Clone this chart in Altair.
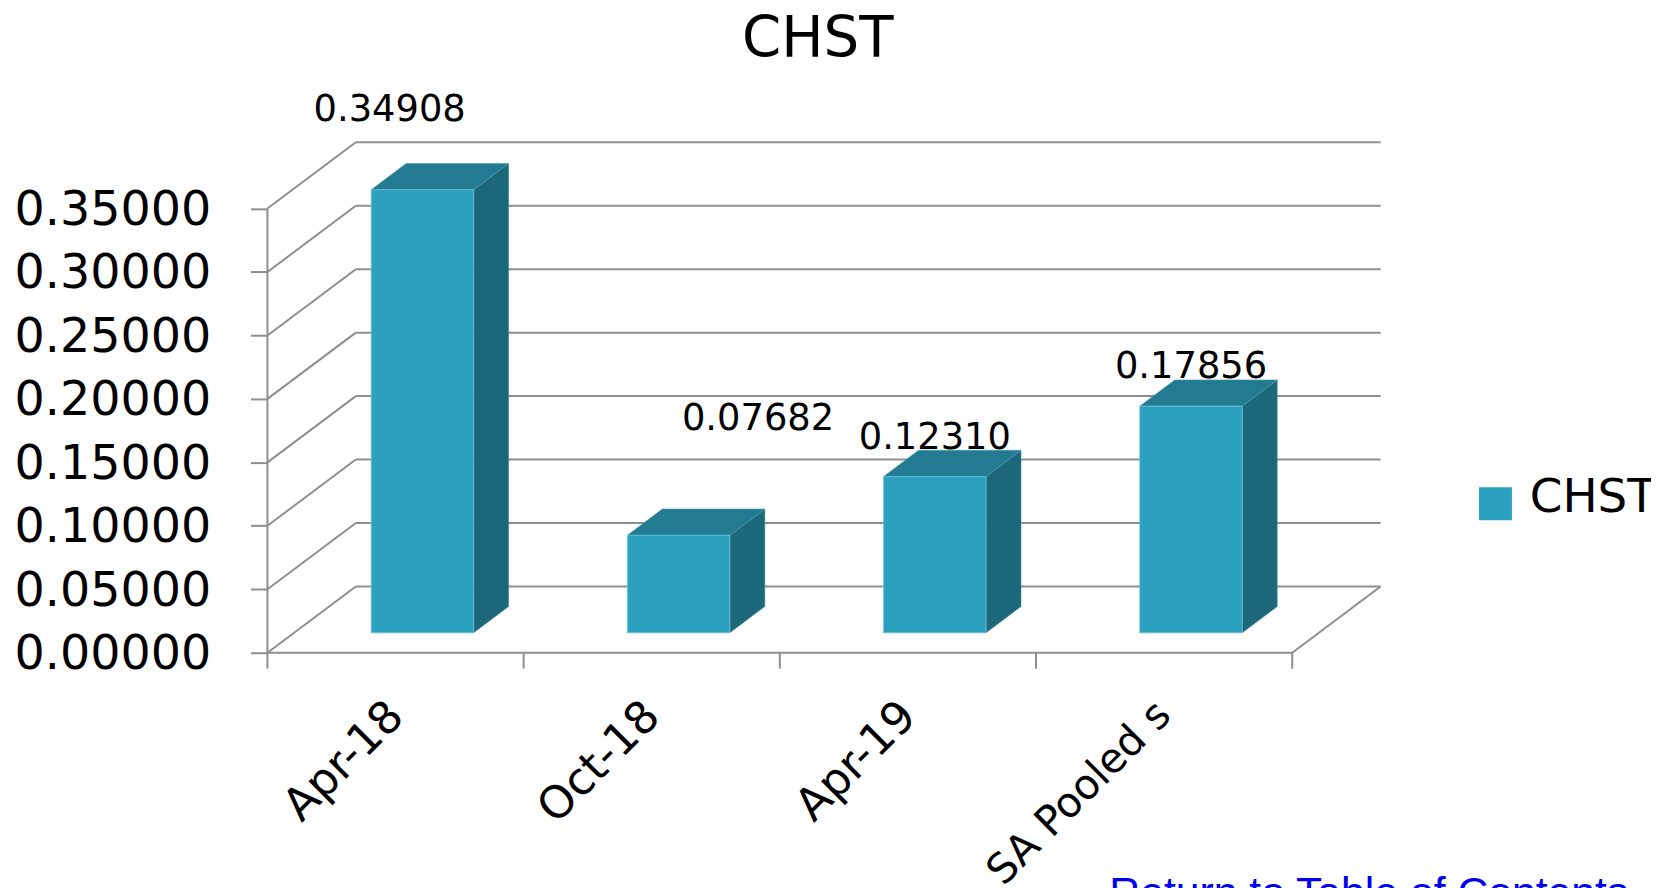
import json
import altair as alt
import pandas as pd

TITLE = "CHST"
LINK = "Return to Table of Contents"
categories = ["Apr-18", "Oct-18", "Apr-19", "SA Pooled s"]
values = [0.34908, 0.07682, 0.12310, 0.17856]
value_labels = ["0.34908", "0.07682", "0.12310", "0.17856"]
y_ticks = [0.0, 0.05, 0.10, 0.15, 0.20, 0.25, 0.30, 0.35]

# geometry of the oblique 3D projection, in data units
WALL_DX, WALL_DY = 0.345, 0.0522
BAR_LEFT, BAR_W = 0.405, 0.40
BAR_DX, BAR_DY = 0.1364, 0.0207
BAR_BASE = 0.0157
LABEL_NUDGE_X = [-0.128, 0.31, 0.0, 0.0]
LABEL_ABOVE = [0.0629, 0.0917, 0.0305, 0.0305]

FRONT, SIDE, TOPC = "#2ca1bf", "#1d677b", "#227b91"
GRID = "#8e8e8e"
FONT = "DejaVu Sans"
PW, PH = 1119, 511
x_scale = alt.Scale(domain=[0, 4.3466], nice=False, zero=False)
y_scale = alt.Scale(domain=[0, 0.4007], nice=False, zero=False)

x_axis = alt.Axis(
    values=[i + 0.5 for i in range(len(categories))],
    labelExpr=f"{json.dumps(categories)}[floor(datum.value)]",
    labelAngle=-45, labelAlign="right", labelBaseline="middle",
    labelFont=FONT, labelColor="black", labelPadding=56,
    labelFontSize={"condition": {"test": "datum.value > 3", "value": 41.5}, "value": 45},
    labelOverlap=False, labelBound=False, labelFlush=False, labelLimit=600,
    tickSize=0, domain=False, grid=False)
y_axis = alt.Axis(
    values=y_ticks, format=".5f", labelFont=FONT, labelFontSize=47.8, labelOffset=2,
    labelColor="black", labelPadding=40, tickSize=17, tickColor=GRID,
    tickWidth=2, domain=False, grid=False, labelOverlap=False, labelLimit=600)
X = lambda f="x": alt.X(f"{f}:Q", scale=x_scale, title=None, axis=x_axis)
Y = lambda f="y": alt.Y(f"{f}:Q", scale=y_scale, title=None, axis=y_axis)

# gridlines and walls
rules = []
for t in y_ticks:
    rules.append(dict(x=0, x2=WALL_DX, y=t, y2=t + WALL_DY))
    rules.append(dict(x=WALL_DX, x2=4 + WALL_DX, y=t + WALL_DY, y2=t + WALL_DY))
rules.append(dict(x=0, x2=0, y=0, y2=y_ticks[-1]))
rules.append(dict(x=0, x2=4, y=0, y2=0))
rules.append(dict(x=4, x2=4 + WALL_DX, y=0, y2=WALL_DY))
grid = alt.Chart(pd.DataFrame(rules)).mark_rule(color=GRID, strokeWidth=2).encode(
    x=X(), x2="x2:Q", y=Y(), y2="y2:Q")

# tick marks of the category axis
x_ticks = alt.Chart(pd.DataFrame({"x": list(range(len(categories) + 1)), "y": [0] * 5})).mark_rule(
    color=GRID, strokeWidth=2
).encode(x=X(), y=Y(), y2=alt.value(PH + 16))

# 3D bars
front_rows, side_rows, top_rows, label_rows = [], [], [], []
for i, (c, v) in enumerate(zip(categories, values)):
    l, r = i + BAR_LEFT, i + BAR_LEFT + BAR_W
    top = BAR_BASE + v
    front_rows.append(dict(x=l, x2=r, y=BAR_BASE, y2=top, series=TITLE))
    side_rows += [
        dict(bar=c, x=r, y=BAR_BASE, y2=top),
        dict(bar=c, x=r + BAR_DX, y=BAR_BASE + BAR_DY, y2=top + BAR_DY),
    ]
    top_rows += [
        dict(bar=c, x=l, y=top, y2=top),
        dict(bar=c, x=l + BAR_DX, y=top, y2=top + BAR_DY),
        dict(bar=c, x=r, y=top, y2=top + BAR_DY),
        dict(bar=c, x=r + BAR_DX, y=top + BAR_DY, y2=top + BAR_DY),
    ]
    label_rows.append(dict(x=l + BAR_W / 2 + LABEL_NUDGE_X[i], y=top + LABEL_ABOVE[i], t=value_labels[i]))

side = alt.Chart(pd.DataFrame(side_rows)).mark_area(color=SIDE, stroke="#3f8ba0", strokeWidth=0.6).encode(
    x=X(), y=Y(), y2="y2:Q", detail="bar:N")
top_face = alt.Chart(pd.DataFrame(top_rows)).mark_area(color=TOPC, stroke="#4a9db3", strokeWidth=0.6).encode(
    x=X(), y=Y(), y2="y2:Q", detail="bar:N")
front = alt.Chart(pd.DataFrame(front_rows)).mark_rect(stroke="#6cc0d6", strokeWidth=0.8).encode(
    x=X(), x2="x2:Q", y=Y(), y2="y2:Q",
    color=alt.Color("series:N", scale=alt.Scale(domain=[TITLE], range=[FRONT]), legend=alt.Legend(
        title=None, orient="none", legendX=1210.5, legendY=332.6, padding=0,
        symbolType="M-1,-0.68H1V1.32H-1Z", symbolSize=1100, symbolStrokeWidth=0,
        labelFont=FONT, labelFontSize=47, labelColor="black", labelOffset=11,
        labelLimit=300)),
)
labels = alt.Chart(pd.DataFrame(label_rows)).mark_text(
    font=FONT, fontSize=37, color="black", baseline="middle", align="center"
).encode(x=X(), y=Y(), text="t:N")

link = alt.Chart(pd.DataFrame({"t": [LINK]})).mark_text(
    font="Liberation Sans", fontSize=42.9, color="#0000ee", align="left", baseline="alphabetic"
).encode(x=alt.value(846), y=alt.value(767), text="t:N")

chart = alt.layer(grid, x_ticks, side, top_face, front, labels, link).properties(
    width=PW, height=PH,
    title=alt.TitleParams(TITLE, font=FONT, fontSize=56.5, fontWeight="normal", color="black",
                          anchor="middle", dx=-6.5, offset=23),
    autosize=alt.AutoSizeParams(type="none"),
    padding={"left": 260.7, "top": 134.7, "right": 271.3, "bottom": 234.3},
).configure_view(stroke=None)

chart.save("out.html", embed_options={"renderer": "svg", "actions": False})
